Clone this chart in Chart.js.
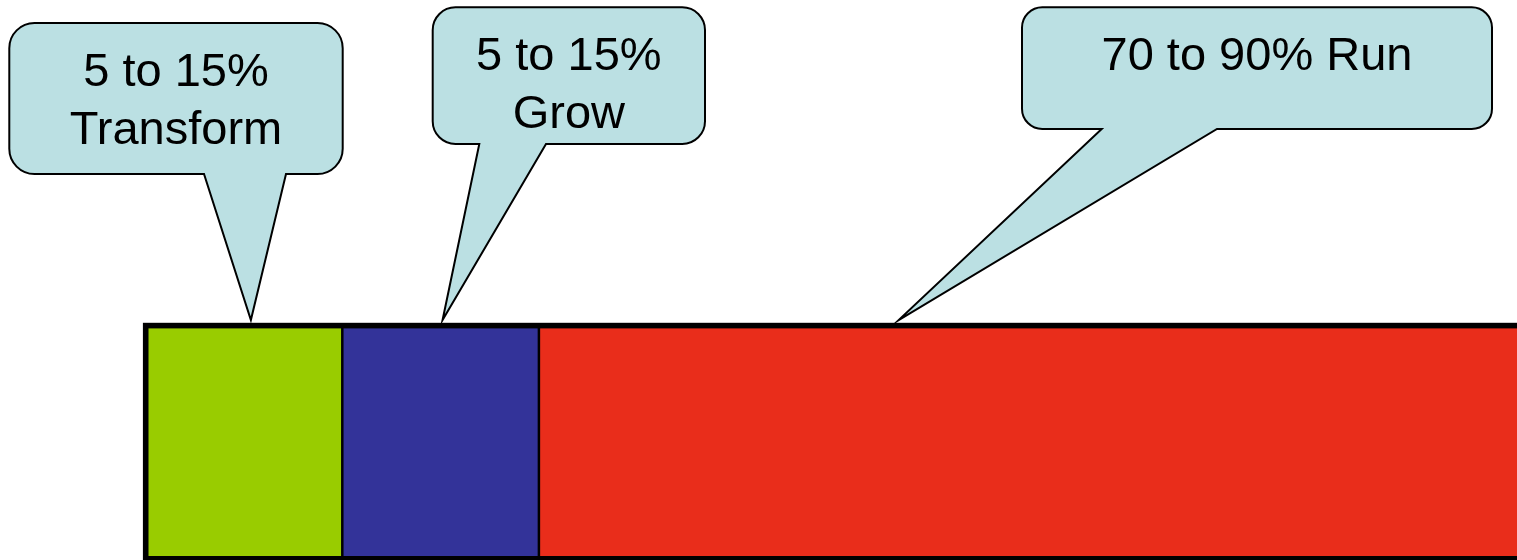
<!DOCTYPE html>
<html><head><meta charset="utf-8">
<script src="https://cdn.jsdelivr.net/npm/chart.js@4/dist/chart.umd.min.js"></script>
<style>html,body{margin:0;padding:0;background:#fff;overflow:hidden}#wrap{width:1517px;height:560px;position:relative}</style>
</head><body><div id="wrap"><canvas id="c" width="1517" height="560"></canvas></div>
<script>
// ---- data ----
const categories = ['Budget'];
const seriesNames = ['Transform', 'Grow', 'Run'];
const transformValues = [10];
const growValues = [10];
const runValues = [80];
const calloutTexts = [['5 to 15%', 'Transform'], ['5 to 15%', 'Grow'], ['70 to 90% Run']];
const calloutTipValues = [5.35, 15.1, 38.3];
// ---- styles / layout ----
const seriesColors = ['#99CC00', '#333399', '#E92D1B'];
const calloutBoxes = [
  {x: 9.3, y: 23, w: 333.4, h: 151, base: [204, 286]},
  {x: 432.7, y: 7.3, w: 272.3, h: 136.7, base: [479.3, 546]},
  {x: 1022, y: 7.3, w: 470, h: 121.7, base: [1101.7, 1217]}
];

const outlinePlugin = {
  id: 'outline',
  afterDatasetsDraw(chart) {
    const ctx = chart.ctx;
    const n = chart.data.datasets.length;
    const first = chart.getDatasetMeta(0).data[0].getProps(['x','y','base','height'], true);
    const last = chart.getDatasetMeta(n - 1).data[0].getProps(['x'], true);
    const top = first.y - first.height / 2;
    // the Run segment continues past the visible area, so its right edge is not drawn
    const right = Math.max(last.x, chart.width) + 20;
    ctx.save();
    ctx.strokeStyle = '#000';
    ctx.lineWidth = 2.5;
    for (let i = 0; i < n - 1; i++) {
      const el = chart.getDatasetMeta(i).data[0].getProps(['x'], true);
      ctx.beginPath();
      ctx.moveTo(el.x, top);
      ctx.lineTo(el.x, top + first.height);
      ctx.stroke();
    }
    ctx.lineWidth = 5.6;
    ctx.strokeRect(first.base, top, right - first.base, first.height);
    ctx.restore();
  }
};

const calloutPlugin = {
  id: 'callouts',
  afterDraw(chart) {
    const ctx = chart.ctx;
    const xs = chart.scales.x;
    const top = chart.getDatasetMeta(0).data[0].getProps(['y','height'], true);
    const tipY = top.y - top.height / 2 - 5.6;
    calloutBoxes.forEach((b, i) => {
      const r = Math.min(b.w, b.h) * 0.16667;
      const tipX = xs.getPixelForValue(calloutTipValues[i]);
      const x0 = b.x, y0 = b.y, x1 = b.x + b.w, y1 = b.y + b.h;
      ctx.save();
      ctx.beginPath();
      ctx.moveTo(x0 + r, y0);
      ctx.lineTo(x1 - r, y0);
      ctx.arcTo(x1, y0, x1, y0 + r, r);
      ctx.lineTo(x1, y1 - r);
      ctx.arcTo(x1, y1, x1 - r, y1, r);
      ctx.lineTo(b.base[1], y1);
      ctx.lineTo(tipX, tipY);
      ctx.lineTo(b.base[0], y1);
      ctx.lineTo(x0 + r, y1);
      ctx.arcTo(x0, y1, x0, y1 - r, r);
      ctx.lineTo(x0, y0 + r);
      ctx.arcTo(x0, y0, x0 + r, y0, r);
      ctx.closePath();
      ctx.fillStyle = '#BBE0E3';
      ctx.fill();
      ctx.lineWidth = 2;
      ctx.strokeStyle = '#000';
      ctx.lineJoin = 'miter';
      ctx.stroke();
      ctx.fillStyle = '#000';
      ctx.font = '47px "Liberation Sans", Arial, sans-serif';
      ctx.textAlign = 'center';
      ctx.textBaseline = 'alphabetic';
      calloutTexts[i].forEach((line, j) => {
        ctx.fillText(line, x0 + b.w / 2, y0 + 63 + j * 58);
      });
      ctx.restore();
    });
  }
};

const seriesValues = [transformValues, growValues, runValues];
const datasets = seriesNames.map((name, i) => ({
  label: name,
  data: seriesValues[i],
  backgroundColor: seriesColors[i],
  borderWidth: 0,
  inflateAmount: 0,
  barPercentage: 1,
  categoryPercentage: 1
}));

new Chart(document.getElementById('c'), {
  type: 'bar',
  data: {labels: categories, datasets},
  options: {
    indexAxis: 'y',
    responsive: false,
    devicePixelRatio: 1,
    animation: false,
    layout: {padding: {left: 145.7, right: 0, top: 325.6, bottom: 1.2}},
    scales: {
      x: {stacked: true, min: 0, max: 69.75, display: false},
      y: {stacked: true, display: false}
    },
    plugins: {legend: {display: false}, tooltip: {enabled: false}}
  },
  plugins: [outlinePlugin, calloutPlugin]
});
</script>
</body></html>
